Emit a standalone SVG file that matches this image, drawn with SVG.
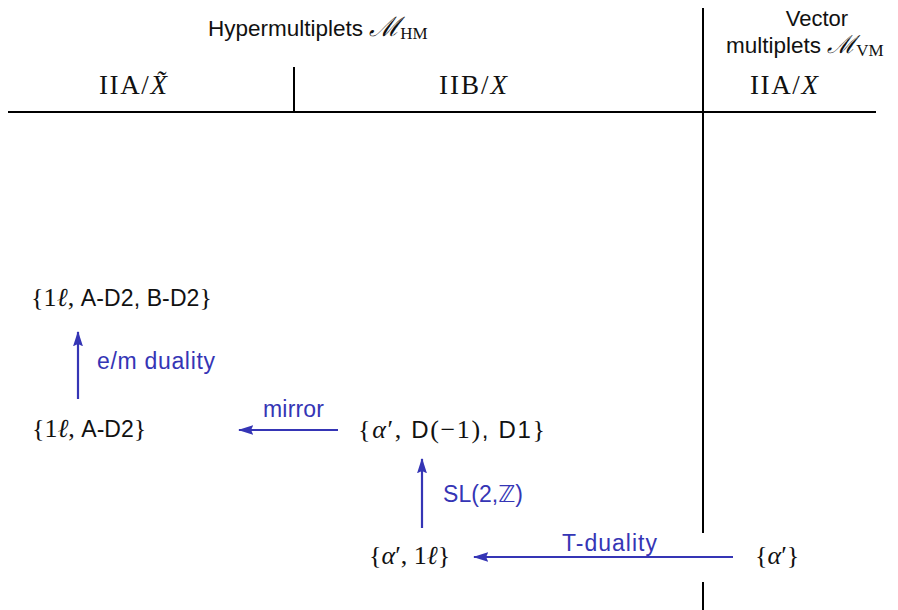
<svg xmlns="http://www.w3.org/2000/svg" width="898" height="610" viewBox="0 0 898 610">
<defs>
<style>
.s{font-family:"Liberation Sans","DejaVu Sans",sans-serif;fill:#111;font-size:23px}
.m{font-family:"Liberation Serif","DejaVu Serif",serif;fill:#111;font-size:26px}
.i{font-style:italic}
.b{fill:#3535b5;font-family:"Liberation Sans","DejaVu Sans",sans-serif;font-size:23px}
.rule{stroke:#000;stroke-width:2;fill:none}
.arr{stroke:#3535b5;stroke-width:2.2;fill:none;marker-end:url(#ah)}
</style>
<marker id="ah" viewBox="0 0 14 10" refX="13" refY="5" markerWidth="7" markerHeight="5" orient="auto" markerUnits="strokeWidth">
<path d="M0,0.5 L14,5 L0,9.5 L2,5 Z" fill="#3535b5"/>
</marker>
</defs>
<rect width="898" height="610" fill="#fff"/>
<g id="table">
<line class="rule" x1="8" y1="112" x2="876" y2="112"/>
<line class="rule" x1="703" y1="8" x2="703" y2="533"/>
<line class="rule" x1="703" y1="582" x2="703" y2="610"/>
<line class="rule" x1="294" y1="67" x2="294" y2="112"/>
<text class="s" x="208" y="36" style="font-size:22.5px">Hypermultiplets <tspan class="m i" style="font-size:27px">ℳ</tspan><tspan class="m" style="font-size:17px" dy="3">HM</tspan></text>
<text class="s" x="817" y="26" style="font-size:22px" text-anchor="middle">Vector</text>
<text class="s" x="726" y="53" style="font-size:22.5px">multiplets <tspan class="m i" style="font-size:25px">ℳ</tspan><tspan class="m" style="font-size:17px" dy="3">VM</tspan></text>
<text class="m" x="99" y="94" style="font-size:27px" textLength="68" lengthAdjust="spacing">IIA/<tspan class="i">X̃</tspan></text>
<text class="m" x="439" y="94" style="font-size:27px" textLength="68" lengthAdjust="spacing">IIB/<tspan class="i">X</tspan></text>
<text class="m" x="750" y="94" style="font-size:27px" textLength="68" lengthAdjust="spacing">IIA/<tspan class="i">X</tspan></text>
</g>
<g id="n1"><text class="m" x="31" y="306" textLength="181" lengthAdjust="spacing">{1<tspan class="i">ℓ</tspan>, <tspan class="s">A-D2, B-D2</tspan>}</text></g>
<g id="n2"><text class="m" x="32" y="437">{1<tspan class="i">ℓ</tspan>, <tspan class="s">A-D2</tspan>}</text></g>
<g id="n3"><text class="m" x="358" y="438" textLength="187" lengthAdjust="spacing">{<tspan class="i">α</tspan>′, <tspan class="s" style="font-size:24px">D</tspan>(−1)<tspan class="s" style="font-size:24px">, D1</tspan>}</text></g>
<g id="n4"><text class="m" x="369" y="564">{<tspan class="i">α</tspan>′, 1<tspan class="i">ℓ</tspan>}</text></g>
<g id="n5"><text class="m" x="755" y="564">{<tspan class="i">α</tspan>′}</text></g>
<g id="connectors">
<line class="arr" x1="78" y1="399" x2="78" y2="332"/>
<text class="b" x="97" y="369" textLength="118" lengthAdjust="spacing">e/m duality</text>
<line class="arr" x1="338" y1="430" x2="239" y2="430"/>
<text class="b" x="263" y="417" textLength="61" lengthAdjust="spacing">mirror</text>
<line class="arr" x1="422" y1="528" x2="422" y2="459"/>
<text class="b" x="443" y="502" textLength="80" lengthAdjust="spacing">SL(2,<tspan font-family="DejaVu Sans">ℤ</tspan>)</text>
<line class="arr" x1="733" y1="557" x2="474" y2="557"/>
<text class="b" x="562" y="551" textLength="95" lengthAdjust="spacing">T-duality</text>
</g>
</svg>
